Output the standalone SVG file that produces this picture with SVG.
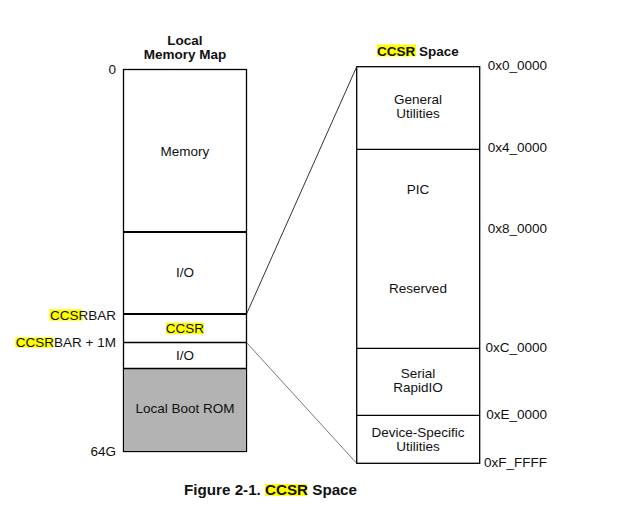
<svg xmlns="http://www.w3.org/2000/svg" width="618" height="514" viewBox="0 0 618 514">
<style>
text{font-family:"Liberation Sans",Arial,sans-serif;font-size:13.5px;fill:#111}
.b{font-weight:bold}
.m{text-anchor:middle}
.e{text-anchor:end}
.box{fill:#fff;stroke:#000;stroke-width:1.3}
.div{stroke:#000;stroke-width:1.3;fill:none}
.thick{stroke:#000;stroke-width:2.2;fill:none}
.hl{fill:#ffff00}
</style>
<rect width="618" height="514" fill="#fff"/>
<g id="local-map">
<text class="b m" x="185" y="44.5">Local</text>
<text class="b m" x="185" y="58.5">Memory Map</text>
<rect class="box" x="123.5" y="69.5" width="123" height="382"/>
<rect x="124" y="368.5" width="122" height="82.5" fill="#b3b3b3"/>
<line class="div" x1="123.5" y1="368.5" x2="246.5" y2="368.5"/>
<line class="thick" x1="123.5" y1="232" x2="246.5" y2="232"/>
<line class="thick" x1="123.5" y1="314" x2="246.5" y2="314"/>
<line class="div" x1="123.5" y1="342.5" x2="246.5" y2="342.5"/>
<text class="e" x="116" y="74">0</text>
<text class="m" x="185" y="156">Memory</text>
<text class="m" x="185" y="277">I/O</text>
<rect class="hl" x="166" y="322.7" width="38" height="11.6"/>
<text class="m" x="185" y="333">CCSR</text>
<text class="m" x="185" y="360">I/O</text>
<text class="m" x="185" y="413">Local Boot ROM</text>
<text class="e" x="116" y="456">64G</text>
<rect class="hl" x="49.3" y="309.3" width="33.4" height="11.4"/>
<text class="e" x="116" y="319.5">CCSRBAR</text>
<rect class="hl" x="15.3" y="337.3" width="38" height="10.4"/>
<text class="e" x="116" y="347">CCSRBAR + 1M</text>
</g>
<g id="ccsr-space">
<rect class="hl" x="377" y="44.5" width="39" height="12"/>
<text class="b" x="377" y="55.5">CCSR Space</text>
<rect class="box" x="356.7" y="66.7" width="123" height="396.6"/>
<line class="div" x1="356.7" y1="149.3" x2="479.7" y2="149.3"/>
<line class="div" x1="356.7" y1="348.3" x2="479.7" y2="348.3"/>
<line class="div" x1="356.7" y1="415.3" x2="479.7" y2="415.3"/>
<text class="m" x="418" y="103.5">General</text>
<text class="m" x="418" y="117.5">Utilities</text>
<text class="m" x="418" y="194">PIC</text>
<text class="m" x="418" y="293">Reserved</text>
<text class="m" x="418" y="378">Serial</text>
<text class="m" x="418" y="392">RapidIO</text>
<text class="m" x="418" y="436.5">Device-Specific</text>
<text class="m" x="418" y="450.5">Utilities</text>
<text class="e" x="547" y="70">0x0_0000</text>
<text class="e" x="547" y="152">0x4_0000</text>
<text class="e" x="547" y="233">0x8_0000</text>
<text class="e" x="547" y="352">0xC_0000</text>
<text class="e" x="547" y="419">0xE_0000</text>
<text class="e" x="547" y="467">0xF_FFFF</text>
</g>
<g id="connectors">
<line x1="246.5" y1="314" x2="356.7" y2="66.7" stroke="#333" stroke-width="1"/>
<line x1="246.5" y1="342.5" x2="356.7" y2="463.3" stroke="#555" stroke-width="0.8"/>
</g>
<g id="caption">
<rect class="hl" x="265" y="484" width="42" height="12"/>
<text class="b" x="184" y="495" style="font-size:15.2px">Figure 2-1. CCSR Space</text>
</g>
</svg>
